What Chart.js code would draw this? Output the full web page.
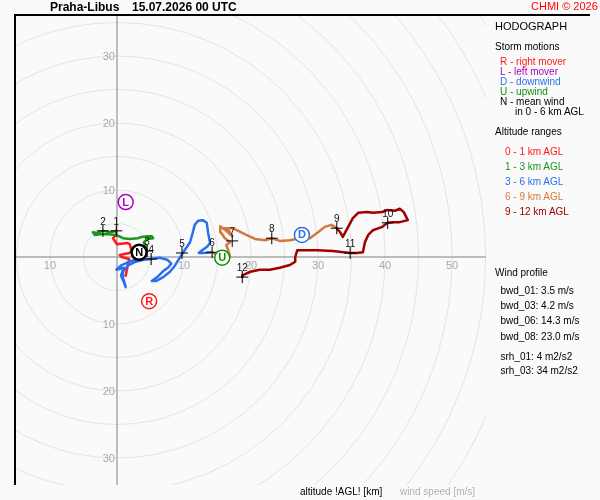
<!DOCTYPE html>
<html>
<head>
<meta charset="utf-8">
<script src="https://cdn.jsdelivr.net/npm/chart.js@4.4.0/dist/chart.umd.min.js"></script>
<style>
  body { margin: 0; background: #fafafa; font-family: "Liberation Sans", Arial, sans-serif; }
  #wrap { position: relative; width: 600px; height: 500px; overflow: hidden; }
  #hodo { position: absolute; left: 0; top: 0; }
  .t { position: absolute; white-space: nowrap; transform: translateY(-50%); font-size: 10px; line-height: 12px; }
</style>
</head>
<body>
<div id="wrap">
  <canvas id="hodo" width="600" height="500"></canvas>
  <div id="texts"></div>
</div>
<script>
// hodograph trace, [u, v] in m/s, one list per altitude range
const seg0to1 = [[1.3,-2.8],[1.6,-1.3],[1.8,-0.3],[0.7,0.0],[0.4,0.3],[1.9,0.6],[2.2,1.0],[1.9,1.9],
  [1.6,2.1],[0.0,1.9],[-0.6,2.8],[-0.1,3.4],[-0.1,3.9]];
const seg1to3 = [[-0.1,3.9],[-1.0,3.7],[-2.1,3.9],[-3.0,3.6],[-3.6,3.7],[-3.3,3.3],[-2.5,3.4],[-1.3,3.4],
  [-0.1,3.3],[0.9,2.8],[1.9,2.7],[3.1,2.8],[3.7,3.0],[4.5,3.1],[5.2,3.1],[5.4,2.8],[4.5,2.7],[4.0,2.2],[4.5,0.9]];
const seg3to6 = [[4.5,0.9],[3.4,-0.1],[1.9,-0.7],[0.7,-1.2],[-0.1,-1.9],[1.0,-1.6],[0.6,-2.8],[1.0,-3.7],
  [1.3,-4.5],[1.0,-3.4],[0.9,-2.2],[1.6,-1.3],[2.8,-0.7],[4.0,-0.4],[5.1,-0.3],[6.4,-0.1],[7.5,-0.4],
  [8.1,-1.0],[7.6,-1.6],[6.9,-2.1],[6.0,-3.0],[5.2,-3.6],[5.8,-3.6],[6.9,-3.0],[7.9,-2.2],[8.5,-1.5],
  [9.0,-0.7],[9.7,0.4],[10.1,1.0],[10.9,2.2],[11.3,3.6],[11.6,4.8],[12.1,5.4],[12.8,5.5],[13.4,5.1],
  [13.6,3.6],[13.9,2.1],[13.4,1.5],[12.7,1.0],[12.2,0.6],[13.0,0.6],[14.2,0.7]];
const seg6to9 = [[14.2,0.7],[15.1,0.3],[16.1,-0.1],[16.9,0.0],[16.6,1.0],[16.3,1.8],[16.9,2.2],[16.1,2.8],
  [15.5,3.7],[15.4,4.6],[16.3,3.9],[17.2,3.1],[16.7,3.9],[16.0,4.3],[17.2,4.3],[18.1,3.9],[19.3,3.3],
  [20.6,2.7],[22.1,2.5],[23.1,2.8],[24.3,2.4],[25.8,2.5],[27.3,2.8],[28.8,2.8],[30.0,3.7],[31.0,4.5],
  [32.0,4.8],[32.8,4.3]];
const seg9to12 = [[32.8,4.3],[33.3,3.7],[33.7,3.0],[34.5,4.5],[35.2,5.8],[36.0,6.6],[37.3,6.7],[38.2,6.6],
  [39.6,6.7],[40.3,7.0],[41.5,6.9],[42.2,7.2],[42.8,6.7],[43.4,5.5],[42.2,5.2],[41.2,5.2],[40.4,5.1],
  [39.6,4.5],[38.2,4.0],[37.5,3.3],[37.0,2.2],[36.7,0.7],[35.8,0.6],[34.8,0.6],[32.2,0.9],[29.9,1.0],
  [26.9,1.0],[26.6,0.0],[26.6,-0.7],[25.8,-1.2],[24.3,-1.6],[22.8,-1.9],[21.3,-1.9],[19.9,-2.2],
  [18.8,-2.7],[18.7,-3.0]];

// altitude marks (km AGL)
const altLabels = ["1","2","3","4","5","6","7","8","9","10","11","12"];
const altU = [-0.1,-2.1,4.5,5.1,9.7,14.2,17.2,23.1,32.8,40.4,34.8,18.7];
const altV = [3.9,3.9,0.9,-0.3,0.6,0.7,2.4,2.8,4.3,5.1,0.6,-3.0];

// storm motions
const motionLetters = ["R","L","D","U","N"];
const motionU = [4.8,1.3,27.6,15.7,3.3];
const motionV = [-6.6,8.2,3.3,-0.1,0.7];
const motionColors = ["#ff1a1a","#b000c0","#2b6ff0","#109010","#000000"];

// grid
const ringSpeeds = [5,10,15,20,25,30,35,40,45,50,55,60,65,70];
const xTickValues = [-10,10,20,30,40,50];
const yTickValues = [30,20,10,-10,-20,-30];

// wind profile
const profileNames = ["bwd_01","bwd_03","bwd_06","bwd_08","srh_01","srh_03"];
const profileValues = ["3.5","4.2","14.3","23.0","4","34"];
const profileUnits = ["m/s","m/s","m/s","m/s","m2/s2","m2/s2"];

const rangeLabels = ["0 - 1 km AGL","1 - 3 km AGL","3 - 6 km AGL","6 - 9 km AGL","9 - 12 km AGL"];
const rangeColors = ["#ff1a1a","#1c961c","#2b6ff0","#d2783c","#a00000"];

function toPoints(seg) {
  return seg.map((p) => ({ x: p[0], y: p[1] }));
}

const gridPlugin = {
  id: "grid",
  beforeDatasetsDraw(chart) {
    const { ctx, chartArea, scales } = chart;
    const x0 = scales.x.getPixelForValue(0);
    const y0 = scales.y.getPixelForValue(0);
    const unit = scales.x.getPixelForValue(1) - x0;

    ctx.save();
    ctx.beginPath();
    ctx.rect(chartArea.left, chartArea.top, chartArea.right - chartArea.left, chartArea.bottom - chartArea.top);
    ctx.clip();
    ctx.strokeStyle = "#e3e3e3";
    ctx.lineWidth = 1;
    ringSpeeds.forEach((r) => {
      ctx.beginPath();
      ctx.arc(x0, y0, r * unit, 0, Math.PI * 2);
      ctx.stroke();
    });
    ctx.strokeStyle = "#a8a8a8";
    ctx.lineWidth = 1.5;
    ctx.beginPath();
    ctx.moveTo(chartArea.left, y0);
    ctx.lineTo(chartArea.right, y0);
    ctx.moveTo(x0, chartArea.top);
    ctx.lineTo(x0, chartArea.bottom);
    ctx.stroke();

    ctx.fillStyle = "#a8a8a8";
    ctx.font = '11px "Liberation Sans", Arial, sans-serif';
    ctx.textAlign = "center";
    ctx.textBaseline = "middle";
    xTickValues.forEach((v) => {
      ctx.fillText(String(Math.abs(v)), scales.x.getPixelForValue(v), y0 + 9);
    });
    ctx.textAlign = "right";
    yTickValues.forEach((v) => {
      ctx.fillText(String(Math.abs(v)), x0 - 2, scales.y.getPixelForValue(v) + 1);
    });
    ctx.restore();

    // frame: left and top
    ctx.save();
    ctx.strokeStyle = "#000";
    ctx.lineWidth = 2;
    ctx.beginPath();
    ctx.moveTo(chartArea.left, chartArea.bottom);
    ctx.lineTo(chartArea.left, chartArea.top);
    ctx.lineTo(590, chartArea.top);
    ctx.stroke();
    ctx.restore();
  },
  afterDatasetsDraw(chart) {
    const { ctx } = chart;
    ctx.save();
    ctx.textAlign = "center";
    ctx.textBaseline = "middle";

    const crossMeta = chart.getDatasetMeta(5);
    ctx.font = '10px "Liberation Sans", Arial, sans-serif';
    ctx.fillStyle = "#111";
    crossMeta.data.forEach((pt, i) => {
      ctx.fillText(altLabels[i], pt.x, pt.y - 9);
    });

    const motionMeta = chart.getDatasetMeta(6);
    ctx.font = 'bold 11px "Liberation Sans", Arial, sans-serif';
    motionMeta.data.forEach((pt, i) => {
      ctx.fillStyle = motionColors[i];
      ctx.fillText(motionLetters[i], pt.x, pt.y + 0.5);
    });
    ctx.restore();
  },
};

const segments = [seg0to1, seg1to3, seg3to6, seg6to9, seg9to12];
const datasets = segments.map((seg, i) => ({
  data: toPoints(seg),
  showLine: true,
  borderColor: rangeColors[i],
  borderWidth: 2.5,
  borderJoinStyle: "round",
  borderCapStyle: "round",
  pointRadius: 0,
  order: 10 - i,
}));

datasets.push({
  data: altU.map((u, i) => ({ x: u, y: altV[i] })),
  showLine: false,
  pointStyle: "cross",
  pointRadius: 6,
  borderColor: "#000",
  borderWidth: 1,
  order: 2,
});

datasets.push({
  data: motionU.map((u, i) => ({ x: u, y: motionV[i] })),
  showLine: false,
  pointStyle: "circle",
  pointRadius: 7.5,
  pointBackgroundColor: "#ffffff",
  pointBorderColor: motionColors,
  pointBorderWidth: motionLetters.map((l) => (l == "N" ? 2.5 : 1.5)),
  order: 1,
});

new Chart(document.querySelector("#hodo").getContext("2d"), {
  type: "scatter",
  data: { datasets: datasets },
  options: {
    responsive: false,
    animation: false,
    layout: { padding: { left: 15, top: 15, right: 114, bottom: 15 } },
    scales: {
      x: { type: "linear", min: -15.22, max: 55.07, display: false },
      y: { type: "linear", min: -34.03, max: 36.12, display: false },
    },
    plugins: { legend: { display: false }, tooltip: { enabled: false } },
  },
  plugins: [gridPlugin],
});

// text around the plot
function addText(text, x, y, style) {
  const texts = document.querySelector("#texts");
  texts.innerHTML += `<div class="t" style="left:${x}px;top:${y}px;${style || ""}">${text}</div>`;
}

addText("Praha-Libus", 50, 7, "font-size:12px;font-weight:bold;");
addText("15.07.2026 00 UTC", 132, 7, "font-size:12px;font-weight:bold;");
addText("CHMI &copy; 2026", 531, 6, "font-size:11px;color:#ff0000;");
addText("HODOGRAPH", 495, 26, "font-size:11px;");
addText("Storm motions", 495, 46.5);
addText("R - right mover", 500, 61.5, "color:#ff1a1a;");
addText("L - left mover", 500, 71.5, "color:#b000c0;");
addText("D - downwind", 500, 81.5, "color:#2b6ff0;");
addText("U - upwind", 500, 91.5, "color:#109010;");
addText("N - mean wind", 500, 101.5);
addText("in 0 - 6 km AGL", 515, 111.5);
addText("Altitude ranges", 495, 131.5);
rangeLabels.forEach((label, i) => {
  addText(label, 505, 151.5 + i * 15, `color:${rangeColors[i]};`);
});
addText("Wind profile", 495, 272.5);
profileNames.forEach((name, i) => {
  const y = i < 4 ? 291 + i * 15.2 : 356.5 + (i - 4) * 14;
  addText(`${name}: ${profileValues[i]} ${profileUnits[i]}`, 500.5, y);
});
addText("altitude !AGL! [km]", 300, 492);
addText("wind speed [m/s]", 400, 492, "color:#b0b0b0;");
</script>
</body>
</html>
